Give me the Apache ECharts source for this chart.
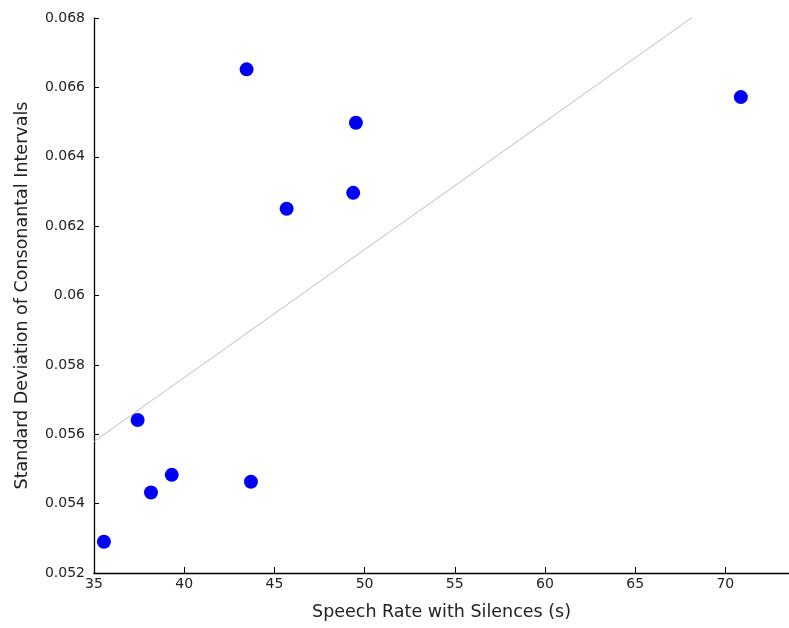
<!DOCTYPE html>
<html>
<head>
<meta charset="utf-8">
<script src="https://cdn.jsdelivr.net/npm/echarts@6/dist/echarts.min.js"></script>
<style>
html,body{margin:0;padding:0;background:#fff;}
#chart{width:789px;height:628px;}
</style>
</head>
<body>
<div id="chart"></div>
<script>
// Data
var speechRate = [35.55, 38.16, 39.31, 37.42, 43.70, 43.46, 49.52, 49.37, 45.68, 70.86];
var sdConsonantal = [0.05290, 0.05432, 0.05483, 0.05641, 0.05463, 0.06652, 0.06498, 0.06296, 0.06250, 0.06572];
var fitLineX = [35.0, 68.22];
var fitLineY = [0.05579, 0.06804];
var xTitle = 'Speech Rate with Silences (s)';
var yTitle = 'Standard Deviation of Consonantal Intervals';

var points = speechRate.map(function (x, i) { return [x, sdConsonantal[i]]; });
var fit = fitLineX.map(function (x, i) { return [x, fitLineY[i]]; });

var chart = echarts.init(document.getElementById('chart'), null, {renderer: 'canvas'});
var font = '"DejaVu Sans", sans-serif';
chart.setOption({
  animation: false,
  backgroundColor: '#ffffff',
  grid: {left: 94, right: 0, top: 18, bottom: 55, containLabel: false},
  xAxis: {
    type: 'value', min: 35, max: 73.53, interval: 5,
    name: xTitle, nameLocation: 'middle', nameGap: 30,
    nameTextStyle: {color: '#222', fontSize: 17.5, fontFamily: font},
    axisLine: {show: true, lineStyle: {color: '#000', width: 1.3}},
    axisTick: {show: true, inside: true, length: 6, lineStyle: {color: '#000'}},
    axisLabel: {color: '#222', fontSize: 14, fontFamily: font, margin: 4, showMaxLabel: false},
    splitLine: {show: false}
  },
  yAxis: {
    type: 'value', min: 0.052, max: 0.068, interval: 0.002,
    name: yTitle, nameLocation: 'middle', nameGap: 63, nameRotate: 90,
    nameTextStyle: {color: '#222', fontSize: 17.5, fontFamily: font},
    axisLine: {show: true, lineStyle: {color: '#000', width: 1.3}},
    axisTick: {show: true, inside: true, length: 5, lineStyle: {color: '#000'}},
    axisLabel: {color: '#222', fontSize: 14, fontFamily: font, margin: 9,
      formatter: function (v) { return String(Number(v.toFixed(3))); }},
    splitLine: {show: false}
  },
  series: [
    {
      type: 'line', data: fit, symbol: 'none', silent: true,
      lineStyle: {color: '#bdbdbd', width: 1}, z: 1
    },
    {
      type: 'scatter', data: points, symbol: 'circle', symbolSize: 14,
      itemStyle: {color: '#0000f5', opacity: 1}, z: 2
    }
  ]
});
</script>
</body>
</html>
